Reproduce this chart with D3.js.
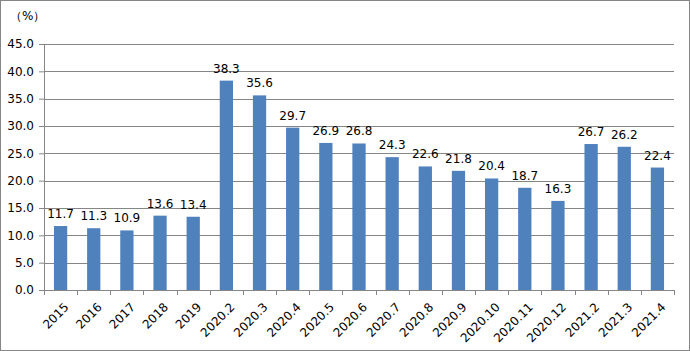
<!DOCTYPE html>
<html>
<head>
<meta charset="utf-8">
<script src="https://cdn.jsdelivr.net/npm/d3@7"></script>
<style>
  body { margin: 0; background: #fff; }
  text { font-family: "DejaVu Sans", sans-serif; fill: #000; }
</style>
</head>
<body>
<div id="chart"></div>
<script>
var categories = ["2015", "2016", "2017", "2018", "2019", "2020.2", "2020.3", "2020.4", "2020.5", "2020.6",
  "2020.7", "2020.8", "2020.9", "2020.10", "2020.11", "2020.12", "2021.2", "2021.3", "2021.4"];
var values = [11.7, 11.3, 10.9, 13.6, 13.4, 38.3, 35.6, 29.7, 26.9, 26.8,
  24.3, 22.6, 21.8, 20.4, 18.7, 16.3, 26.7, 26.2, 22.4];
var yTicks = [0, 5, 10, 15, 20, 25, 30, 35, 40, 45];

var W = 690, H = 351;
var margin = {top: 44, right: 16, bottom: 61, left: 44};
var width = W - margin.left - margin.right;
var height = H - margin.top - margin.bottom;

var svg = d3.select("#chart").append("svg")
  .attr("width", W)
  .attr("height", H);

// outer frame
svg.append("rect")
  .attr("x", 0.5).attr("y", 0.5)
  .attr("width", W - 1).attr("height", H - 1)
  .attr("fill", "#fff")
  .attr("stroke", "#868686");

var g = svg.append("g")
  .attr("transform", "translate(" + margin.left + "," + margin.top + ")");

var x = d3.scaleBand()
  .domain(categories)
  .range([0, width])
  .paddingInner(0.6)
  .paddingOuter(0.3);

var y = d3.scaleLinear()
  .domain([0, 45])
  .range([height, 0]);

// gridlines
g.append("g")
  .selectAll("line")
  .data(yTicks.slice(1))
  .join("line")
  .attr("x1", 0).attr("x2", width)
  .attr("y1", d => Math.round(y(d)) + 0.5)
  .attr("y2", d => Math.round(y(d)) + 0.5)
  .attr("stroke", "#868686");

// y axis
var yAxis = g.append("g")
  .call(d3.axisLeft(y).tickValues(yTicks).tickFormat(d3.format(".1f")).tickSize(5).tickPadding(5));
yAxis.select(".domain").attr("stroke", "#868686").attr("d", "M0.5,0V" + height);
yAxis.selectAll(".tick line").attr("stroke", "#868686");
yAxis.selectAll(".tick text").style("font-size", "12px");

// bars
g.selectAll(".bar")
  .data(values)
  .join("rect")
  .attr("class", "bar")
  .attr("x", (d, i) => x(categories[i]))
  .attr("width", x.bandwidth())
  .attr("y", d => y(d))
  .attr("height", d => height - y(d))
  .attr("fill", "#4F81BD");

// value labels
g.selectAll(".lbl")
  .data(values)
  .join("text")
  .attr("class", "lbl")
  .attr("x", (d, i) => x(categories[i]) + x.bandwidth() / 2)
  .attr("y", d => y(d) - 8)
  .attr("text-anchor", "middle")
  .style("font-size", "12px")
  .text(d => d.toFixed(1));

// x axis
var xAxis = g.append("g")
  .attr("transform", "translate(0," + height + ")");
xAxis.append("line")
  .attr("x1", 0).attr("x2", width)
  .attr("y1", 0.5).attr("y2", 0.5)
  .attr("stroke", "#868686");
xAxis.selectAll(".xt")
  .data(d3.range(categories.length + 1))
  .join("line")
  .attr("class", "xt")
  .attr("x1", i => Math.round(i * width / categories.length) + 0.5)
  .attr("x2", i => Math.round(i * width / categories.length) + 0.5)
  .attr("y1", 0).attr("y2", 5)
  .attr("stroke", "#868686");
xAxis.selectAll(".xl")
  .data(categories)
  .join("text")
  .attr("class", "xl")
  .attr("text-anchor", "end")
  .style("font-size", "12px")
  .attr("transform", d => "translate(" + (x(d) + x.bandwidth() / 2 + 3) + ",12) rotate(-45)")
  .attr("dy", "0.7em")
  .text(d => d);

// unit label
svg.append("text")
  .attr("x", 10).attr("y", 20)
  .style("font-size", "12px")
  .text("（%）");
</script>
</body>
</html>
